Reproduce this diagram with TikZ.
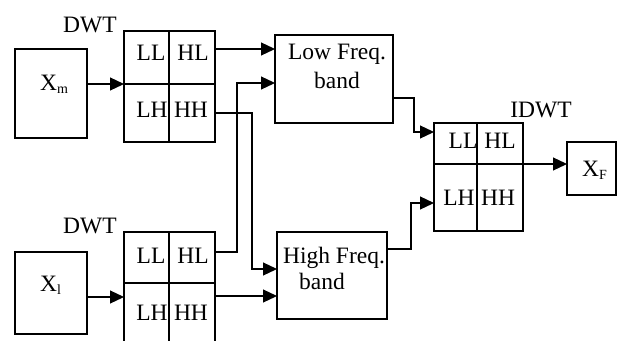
\documentclass[tikz,border=0pt]{standalone}
\usepackage{fontspec}
\setmainfont{Liberation Serif}
\usetikzlibrary{arrows.meta}
\newcommand\subx[1]{\raisebox{-3pt}{\fontsize{14}{14}\selectfont #1}}
\begin{document}
\begin{tikzpicture}[x=1pt,y=-1pt,
  box/.style={draw,line width=1.5pt,inner sep=0pt,outer sep=0pt},
  txt/.style={font=\fontsize{23.5}{28}\selectfont,inner sep=0pt,anchor=base},
  arr/.style={line width=1.2pt,-{Triangle[length=14pt,width=13pt]}},
  conn/.style={line width=1.2pt}]
\useasboundingbox (0,0) rectangle (617,340);
% input boxes
\node[box,minimum width=72pt,minimum height=89pt] (Xm) at (51,93.5) {};
\node[box,minimum width=72pt,minimum height=82pt] (Xl) at (51,293) {};
\node[txt,anchor=base west] (tXm) at (40,90) {X\subx{m}};
\node[txt,anchor=base west] (tXl) at (40,291) {X\subx{l}};
% upper DWT grid
\node[box,minimum width=45pt,minimum height=53pt] (uLL) at (146.5,57.5) {};
\node[box,minimum width=46pt,minimum height=53pt] (uHL) at (192,57.5) {};
\node[box,minimum width=45pt,minimum height=58pt] (uLH) at (146.5,113) {};
\node[box,minimum width=46pt,minimum height=58pt] (uHH) at (192,113) {};
\node[txt] (tuLL) at (151,60) {LL};
\node[txt] (tuHL) at (193,60) {HL};
\node[txt] (tuLH) at (152,117) {LH};
\node[txt] (tuHH) at (191,117) {HH};
\node[txt] (dwt1) at (90,32) {DWT};
% lower DWT grid (bottom row runs past the lower edge)
\node[box,minimum width=45pt,minimum height=51pt] (lLL) at (146.5,257.5) {};
\node[box,minimum width=46pt,minimum height=51pt] (lHL) at (192,257.5) {};
\node[box,minimum width=45pt,minimum height=62pt] (lLH) at (146.5,314) {};
\node[box,minimum width=46pt,minimum height=62pt] (lHH) at (192,314) {};
\node[txt] (tlLL) at (151,263) {LL};
\node[txt] (tlHL) at (193,263) {HL};
\node[txt] (tlLH) at (152,320) {LH};
\node[txt] (tlHH) at (191,320) {HH};
\node[txt] (dwt2) at (90,233) {DWT};
% band boxes
\node[box,minimum width=118pt,minimum height=88pt] (Low) at (334,79) {};
\node[txt] (tLow1) at (337,59) {Low Freq.};
\node[txt] (tLow2) at (337,88) {band};
\node[box,minimum width=110pt,minimum height=87pt] (High) at (332,275.5) {};
\node[txt] (tHigh1) at (334,263) {High Freq.};
\node[txt] (tHigh2) at (322,289) {band};
% IDWT grid
\node[box,minimum width=43pt,minimum height=41pt] (iLL) at (455.5,143.5) {};
\node[box,minimum width=46pt,minimum height=41pt] (iHL) at (500,143.5) {};
\node[box,minimum width=43pt,minimum height=67pt] (iLH) at (455.5,197.5) {};
\node[box,minimum width=46pt,minimum height=67pt] (iHH) at (500,197.5) {};
\node[txt] (tiLL) at (463,148) {LL};
\node[txt] (tiHL) at (500,148) {HL};
\node[txt] (tiLH) at (459,205) {LH};
\node[txt] (tiHH) at (498,205) {HH};
\node[txt] (idwt) at (541,117) {IDWT};
% output
\node[box,minimum width=49pt,minimum height=53pt] (XF) at (591.5,168.5) {};
\node[txt,anchor=base west] (tXF) at (582,176) {X\subx{F}};
% bend coordinates
\coordinate (b3) at (237,83);
\coordinate (b4) at (252,269);
\coordinate (b7) at (414,132);
\coordinate (b8) at (411,203);
% connectors
\draw[arr] (Xm.east |- uLH.north west) -- (uLH.north west);
\draw[arr] ([yshift=8.5pt]uHL.east) -- ([yshift=8.5pt]uHL.east -| Low.west);
\draw[arr] ([yshift=5.5pt]lHL.east) -| (b3) -- (b3 -| Low.west);
\draw[arr] (uHH.east) -| (b4) -- (b4 -| High.west);
\draw[arr] ([yshift=-4pt]Xl.east) -- ([yshift=-4pt]Xl.east -| lLH.west);
\draw[arr] ([yshift=18pt]lHH.east) -- ([yshift=18pt]lHH.east -| High.west);
\draw[arr] ([yshift=-19pt]Low.east) -| (b7) -- (b7 -| iLL.west);
\draw[arr] ([yshift=26.5pt]High.east) -| (b8) -- (b8 -| iLH.west);
\draw[arr] (iHL.south east) -- (iHL.south east -| XF.west);
\end{tikzpicture}
\end{document}
